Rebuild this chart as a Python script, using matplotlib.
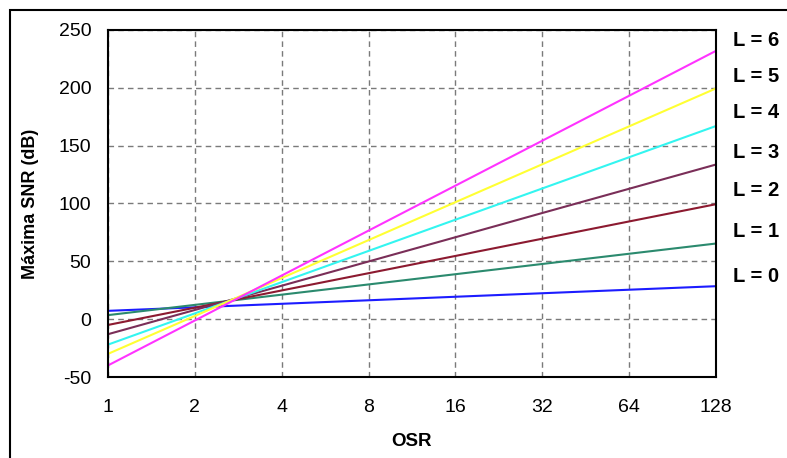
import numpy as np
import matplotlib
matplotlib.use("Agg")
import matplotlib.pyplot as plt
from matplotlib.patches import Rectangle

plt.rcParams['font.family'] = ['Liberation Sans', 'DejaVu Sans']
plt.rcParams['axes.unicode_minus'] = False

osr = [1, 128]
labels = ["L = 0", "L = 1", "L = 2", "L = 3", "L = 4", "L = 5", "L = 6"]
# SNR read at OSR=1 and OSR=128
snr = [
    [7.2, 28.5],
    [3.5, 65.4],
    [-5.0, 99.4],
    [-13.0, 133.7],
    [-22.0, 167.0],
    [-30.0, 199.5],
    [-40.0, 232.0],
]
colors = ['#1c1cff', '#2b8a6e', '#8c1a30', '#7a2e58', '#33f5f0', '#ffff33', '#ff33ff']
label_y = [277, 232, 190, 152, 113, 76, 41]  # pixel rows of the right labels

xticks = [1, 2, 4, 8, 16, 32, 64, 128]
yticks = [-50, 0, 50, 100, 150, 200, 250]

W, H = 787, 458
fig = plt.figure(figsize=(W / 100, H / 100), dpi=100)
ax = fig.add_axes([108 / W, 1 - 377 / H, (716 - 108) / W, (377 - 30) / H])

for vals, c in zip(snr, colors):
    ax.plot(osr, vals, color=c, lw=1.5)

ax.set_xscale('log', base=2)
ax.set_xlim(1, 128)
ax.set_ylim(-50, 250)
ax.set_xticks(xticks)
ax.set_xticklabels([str(t) for t in xticks])
ax.minorticks_off()
ax.set_yticks(yticks)
ax.tick_params(axis='both', length=0, labelsize=14)
ax.tick_params(axis='x', pad=16)
ax.tick_params(axis='y', pad=12)
ax.grid(True, color='#7a7a7a', ls=(0, (4, 3)), lw=1)
for s in ax.spines.values():
    s.set_linewidth(1.5)
    s.set_color('black')

ax.set_xlabel("OSR", fontsize=13.5, fontweight='bold', labelpad=12)
ax.set_ylabel("Máxima SNR (dB)", fontsize=13, fontweight='bold', labelpad=14)

for lab, yp in zip(labels, label_y):
    fig.text(733 / W, 1 - yp / H, lab, fontsize=14.5, fontweight='bold', va='center', ha='left')

# outer frame (clipped on right and bottom)
fig.add_artist(Rectangle((9.5 / W, -0.1), 1.2, 1.1 - 10 / H, transform=fig.transFigure,
                         fill=False, lw=1.5, ec='black'))

fig.savefig("out.png", dpi=100)
